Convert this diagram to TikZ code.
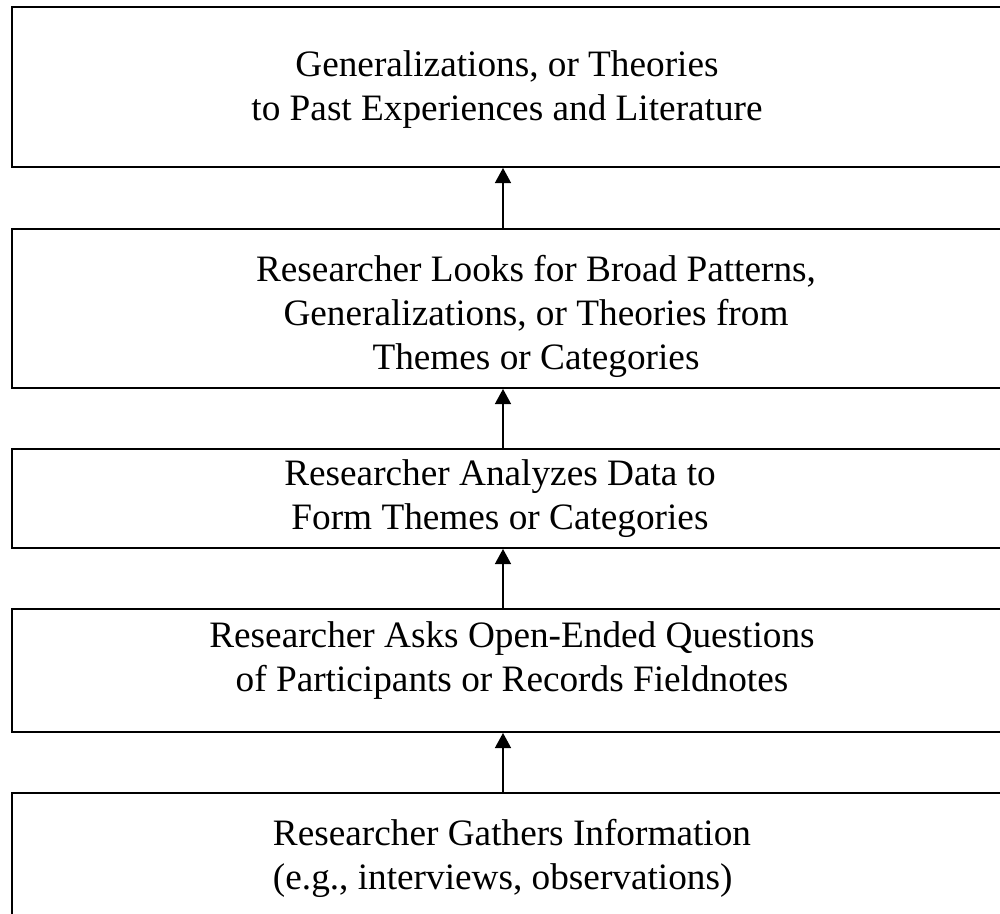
\documentclass[tikz,border=0pt]{standalone}
\usepackage{fontspec}
\setmainfont{Liberation Serif}
\usetikzlibrary{arrows.meta,positioning}

\begin{document}
\begin{tikzpicture}[
    x=0.025cm, y=-0.025cm,
    stagebox/.style={rectangle, draw=black, line width=1.3pt, fill=white,
                     minimum width=25cm, inner sep=0pt},
    stagetext/.style={font=\fontsize{26.5}{31.3}\selectfont, align=center, inner sep=0pt},
    >={Triangle[width=0.4cm,length=0.38cm]}
  ]
    \clip (0,0) rectangle (1000,914);

    % Boxes, top to bottom
    \node[stagebox, minimum height=4cm]     (theory)  at (512,87)    {};
    \node[stagebox, minimum height=3.975cm] (pattern) at (512,308.5) {};
    \node[stagebox, minimum height=2.475cm] (analyze) at (512,498.5) {};
    \node[stagebox, minimum height=3.075cm] (ask)     at (512,670.5) {};
    \node[stagebox, minimum height=3.425cm] (gather)  at (512,861.5) {};

    % Texts
    \node[stagetext] (theorytxt) at (507,90)
      {Generalizations, or Theories\\to Past Experiences and Literature};
    \node[stagetext] (patterntxt) at (536,316)
      {Researcher Looks for Broad Patterns,\\Generalizations, or Theories from\\Themes or Categories};
    \node[stagetext] (analyzetxt) at (500,499)
      {Researcher Analyzes Data to\\Form Themes or Categories};
    \node[stagetext] (asktxt) at (512,661)
      {Researcher Asks Open-Ended Questions\\of Participants or Records Fieldnotes};
    \node[stagetext, align=left] (gathertxt) at (512,858)
      {Researcher Gathers Information\\(e.g., interviews, observations)};

    % Arrows
    \coordinate (ax) at (503,0);
    \draw[->, line width=1.3pt] (ax |- gather.north)  -- (ax |- ask.south);
    \draw[->, line width=1.3pt] (ax |- ask.north)     -- (ax |- analyze.south);
    \draw[->, line width=1.3pt] (ax |- analyze.north) -- (ax |- pattern.south);
    \draw[->, line width=1.3pt] (ax |- pattern.north) -- (ax |- theory.south);
\end{tikzpicture}
\end{document}
